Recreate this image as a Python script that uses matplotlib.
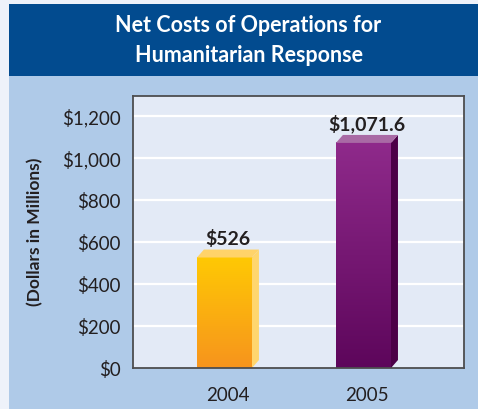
import numpy as np
import matplotlib
matplotlib.use("Agg")
import matplotlib.pyplot as plt
from matplotlib.patches import Rectangle, Polygon
from matplotlib.colors import to_rgb

# Data
years = ["2004", "2005"]
net_costs = [526, 1071.6]
value_labels = ["$526", "$1,071.6"]
y_ticks = [0, 200, 400, 600, 800, 1000, 1200]
y_tick_labels = ["$0", "$200", "$400", "$600", "$800", "$1,000", "$1,200"]

# Face colours per bar: gradient top, gradient bottom, side, top
bar_styles = [
    ("#ffc904", "#f7941d", "#ffd66e", "#ffd36a"),
    ("#8f2a8b", "#5d065b", "#4c0047", "#a96aa5"),
]

plt.rcParams["font.family"] = ["Lato", "DejaVu Sans"]
text_color = "#231f20"

fig = plt.figure(figsize=(4.78, 4.10), dpi=100)
fig.patch.set_facecolor("#afcae8")

# Page margins and title banner
fig.patches.append(Rectangle((0, 0), 9 / 478, 1, transform=fig.transFigure,
                             facecolor="#eef2fa", edgecolor="none", zorder=0))
fig.patches.append(Rectangle((0, 1 - 5 / 410), 1, 5 / 410, transform=fig.transFigure,
                             facecolor="#eef2fa", edgecolor="none", zorder=0))
fig.patches.append(Rectangle((9 / 478, 1 - 77 / 410), 1, 72 / 410, transform=fig.transFigure,
                             facecolor="#024b8f", edgecolor="none", zorder=0))
fig.text(0.52, 1 - 26 / 410, "Net Costs of Operations for", ha="center", va="center",
         color="white", fontsize=15.5, fontweight="bold")
fig.text(0.52, 1 - 56 / 410, "Humanitarian Response", ha="center", va="center",
         color="white", fontsize=15.5, fontweight="bold")

ax = fig.add_axes([133 / 478, 1 - 369 / 410, 331 / 478, 272 / 410])
ax.set_facecolor("#e3eaf6")
ax.set_xlim(-0.658, 1.723)
ax.set_ylim(0, 1295)

for y in y_ticks[1:]:
    ax.axhline(y, color="white", lw=1.6, zorder=1)

width = 0.396
dx, dy = 0.05, 38

for i, (val, style) in enumerate(zip(net_costs, bar_styles)):
    top_c, bot_c, side_c, cap_c = style
    x0, x1 = i - width / 2, i + width / 2
    grad = np.linspace(np.array(to_rgb(bot_c)), np.array(to_rgb(top_c)), 256)[:, None, :]
    ax.imshow(grad, extent=(x0, x1, 0, val), origin="lower", aspect="auto",
              interpolation="bilinear", zorder=3)
    ax.add_patch(Polygon([(x1, 0), (x1 + dx, dy), (x1 + dx, val + dy), (x1, val)],
                         closed=True, facecolor=side_c, edgecolor="none", zorder=3))
    ax.add_patch(Polygon([(x0, val), (x0 + dx, val + dy), (x1 + dx, val + dy), (x1, val)],
                         closed=True, facecolor=cap_c, edgecolor="none", zorder=3))
    ax.text(i + dx / 2, val + dy + 14, value_labels[i], ha="center", va="bottom",
            fontsize=14, fontweight="bold", color=text_color, zorder=4)

ax.set_xlim(-0.658, 1.723)
ax.set_ylim(0, 1295)
ax.set_xticks([0 + dx / 2, 1 + dx / 2])
ax.set_xticklabels(years, fontsize=13.5, color=text_color)
ax.set_yticks(y_ticks)
ax.set_yticklabels(y_tick_labels, fontsize=13.5, color=text_color)
ax.tick_params(length=0, pad=9)
ax.tick_params(axis="x", pad=13)

for side in ["left", "bottom", "top", "right"]:
    ax.spines[side].set_color("#4d4d4f")
    ax.spines[side].set_linewidth(1.3)
    ax.spines[side].set_zorder(5)

fig.text(35 / 478, 1 - 232 / 410, "(Dollars in Millions)", rotation=90, ha="center",
         va="center", fontsize=12.5, fontweight="bold", color=text_color)

fig.savefig("out.png", dpi=100, facecolor=fig.get_facecolor())
